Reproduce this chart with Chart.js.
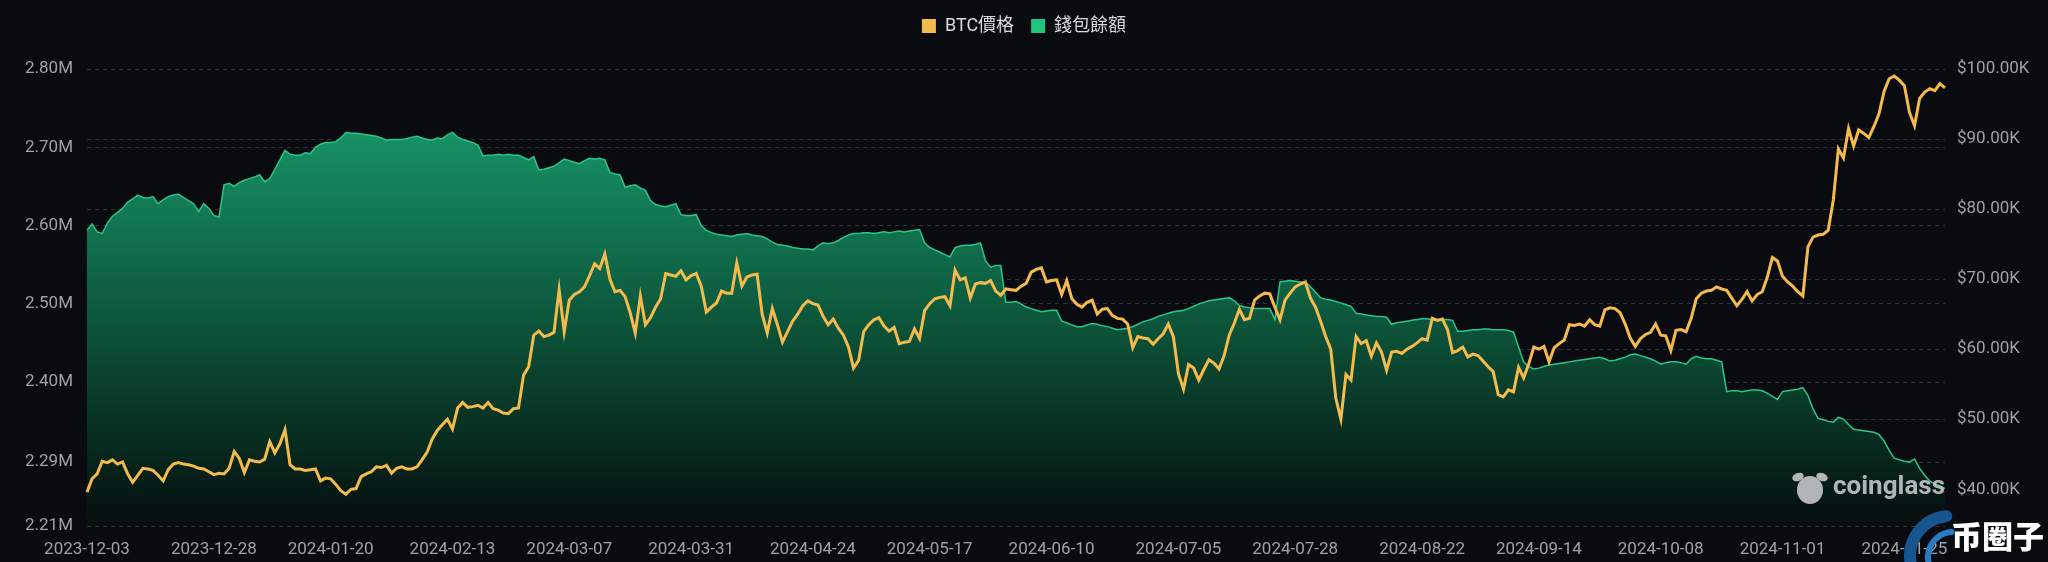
<!DOCTYPE html>
<html>
<head>
<meta charset="utf-8">
<script src="https://cdn.jsdelivr.net/npm/chart.js@4.4.1/dist/chart.umd.min.js"></script>
<style>
  html, body { margin: 0; padding: 0; background: #0a0b10; }
  #wrap { width: 2048px; height: 562px; position: relative; overflow: hidden; }
  #brand {
    position: absolute; left: 1951px; top: 518px;
    font-family: 'Noto Sans CJK SC', sans-serif; font-weight: 900; font-size: 31px; line-height: 34px;
    color: #ffffff; white-space: nowrap;
  }
</style>
</head>
<body>
<div id="wrap"><canvas id="chart"></canvas><div id="brand">币圈子</div></div>
<script>
// Daily points from 2023-12-03 to 2024-12-03
const firstDay = Date.UTC(2023, 11, 3);
const dayCount = 367;

const xTickLabels = [
  "2023-12-03", "2023-12-28", "2024-01-20", "2024-02-13", "2024-03-07", "2024-03-31",
  "2024-04-24", "2024-05-17", "2024-06-10", "2024-07-05", "2024-07-28", "2024-08-22",
  "2024-09-14", "2024-10-08", "2024-11-01", "2024-11-25"
];

// BTC price, thousands of USD
const btcPrice = [
  39.6, 41.5, 42.2, 44.0, 43.8, 44.2, 43.6, 43.9, 42.2, 41.0,
  42.0, 43.0, 42.9, 42.7, 42.0, 41.2, 42.8, 43.6, 43.8, 43.6,
  43.5, 43.3, 43.0, 42.9, 42.5, 42.1, 42.3, 42.2, 43.0, 45.4,
  44.4, 42.4, 44.2, 44.0, 43.9, 44.3, 46.8, 45.2, 46.5, 48.5,
  43.5, 42.9, 42.9, 42.7, 42.8, 42.9, 41.2, 41.6, 41.5, 40.7,
  39.8, 39.3, 40.0, 40.1, 41.8, 42.2, 42.5, 43.2, 43.1, 43.4,
  42.3, 43.0, 43.2, 42.9, 42.9, 43.2, 44.2, 45.3, 47.2, 48.4,
  49.2, 50.0, 48.6, 51.6, 52.4, 51.7, 51.8, 52.0, 51.6, 52.4,
  51.5, 51.3, 50.9, 50.8, 51.5, 51.6, 56.3, 57.5, 62.0, 62.6,
  61.8, 62.0, 62.4, 68.5, 62.5, 67.0, 67.8, 68.2, 68.9, 70.5,
  72.2, 71.5, 73.6, 70.0, 68.2, 68.4, 67.5, 65.2, 62.3, 67.6,
  63.5, 64.5, 66.0, 67.2, 70.8, 70.6, 70.4, 71.2, 69.9, 70.5,
  70.8, 69.0, 65.3, 66.0, 66.6, 68.3, 68.0, 68.0, 72.3, 69.0,
  70.3, 70.6, 70.7, 65.0, 62.3, 65.8, 63.5, 61.0, 62.5, 64.0,
  65.0, 66.2, 66.9, 66.5, 66.3, 64.7, 63.5, 64.3, 63.0, 62.0,
  60.3, 57.3, 58.4, 62.5, 63.5, 64.2, 64.5, 63.3, 62.6, 63.1,
  60.8, 61.0, 61.1, 62.9, 61.5, 65.5, 66.5, 67.2, 67.4, 67.5,
  66.2, 71.3, 69.9, 70.2, 67.3, 69.3, 69.5, 69.4, 69.8, 68.3,
  67.7, 68.6, 68.5, 68.4, 69.0, 69.4, 71.0, 71.4, 71.6, 69.6,
  69.8, 69.9, 67.8, 69.8, 67.2, 66.4, 66.0, 66.7, 67.0, 65.0,
  65.7, 65.8, 64.8, 64.4, 64.3, 63.6, 60.2, 61.8, 61.6, 61.5,
  60.7, 61.5, 62.2, 63.6, 61.8, 56.5, 54.3, 57.8, 57.3, 55.6,
  57.1, 58.5, 58.0, 57.2, 59.1, 62.0, 63.7, 65.7, 64.2, 64.4,
  67.0, 67.6, 68.0, 67.9, 66.0, 64.2, 67.0, 68.0, 68.9, 69.3,
  69.6, 67.3, 66.0, 64.0, 61.8, 60.0, 53.0, 50.0, 56.4, 55.6,
  61.8, 60.8, 61.2, 59.0, 60.9, 59.6, 57.0, 59.6, 59.7, 59.4,
  60.0, 60.4, 60.9, 61.5, 61.3, 64.4, 64.1, 64.3, 62.8, 59.5,
  59.8, 60.3, 58.9, 59.3, 59.1, 58.3, 57.5, 56.8, 53.5, 53.2,
  54.2, 53.9, 57.4, 55.9, 57.9, 60.3, 60.0, 60.4, 58.2, 60.2,
  60.8, 61.3, 63.5, 63.4, 63.6, 63.3, 64.2, 63.5, 63.3, 65.6,
  65.9, 65.8, 65.2, 63.6, 61.6, 60.4, 61.5, 62.1, 62.4, 63.6,
  62.0, 61.9, 59.8, 62.7, 62.8, 62.5, 64.4, 67.2, 68.0, 68.3,
  68.4, 68.9, 68.6, 68.4, 67.3, 66.2, 67.1, 68.2, 66.9, 67.8,
  68.2, 70.3, 73.1, 72.6, 70.4, 69.6, 69.0, 68.2, 67.6, 74.6,
  76.0, 76.3, 76.4, 77.0, 81.3, 88.6, 87.3, 91.5, 89.0, 91.3,
  90.8, 90.2, 91.8, 93.6, 96.8, 98.6, 99.0, 98.4, 97.6, 93.8,
  91.9, 95.8, 96.7, 97.2, 96.9, 97.9, 97.3
];

// wallet balance, millions
const walletBalance = [
  2.594, 2.602, 2.592, 2.590, 2.603, 2.612, 2.617, 2.622, 2.630, 2.634,
  2.639, 2.636, 2.635, 2.637, 2.628, 2.633, 2.637, 2.639, 2.640, 2.636,
  2.632, 2.628, 2.618, 2.628, 2.622, 2.613, 2.611, 2.652, 2.654, 2.650,
  2.655, 2.658, 2.660, 2.662, 2.665, 2.656, 2.660, 2.672, 2.684, 2.696,
  2.691, 2.690, 2.690, 2.693, 2.692, 2.700, 2.704, 2.706, 2.706, 2.707,
  2.712, 2.719, 2.718, 2.718, 2.717, 2.716, 2.715, 2.714, 2.712, 2.709,
  2.710, 2.710, 2.710, 2.711, 2.713, 2.714, 2.712, 2.710, 2.709, 2.712,
  2.711, 2.716, 2.719, 2.713, 2.710, 2.708, 2.706, 2.703, 2.689, 2.690,
  2.690, 2.691, 2.690, 2.691, 2.690, 2.690, 2.687, 2.684, 2.688, 2.671,
  2.672, 2.674, 2.676, 2.680, 2.685, 2.683, 2.681, 2.679, 2.683, 2.686,
  2.685, 2.686, 2.684, 2.668, 2.666, 2.665, 2.649, 2.651, 2.652, 2.648,
  2.645, 2.632, 2.627, 2.625, 2.624, 2.626, 2.628, 2.614, 2.613, 2.613,
  2.614, 2.600, 2.594, 2.591, 2.589, 2.588, 2.587, 2.586, 2.588, 2.589,
  2.590, 2.588, 2.587, 2.586, 2.583, 2.579, 2.576, 2.575, 2.574, 2.572,
  2.571, 2.570, 2.570, 2.569, 2.574, 2.578, 2.577, 2.578, 2.581, 2.585,
  2.588, 2.590, 2.590, 2.591, 2.591, 2.590, 2.591, 2.592, 2.591, 2.592,
  2.593, 2.592, 2.593, 2.594, 2.595, 2.578, 2.572, 2.569, 2.566, 2.563,
  2.560, 2.572, 2.574, 2.575, 2.575, 2.576, 2.578, 2.555, 2.547, 2.549,
  2.549, 2.502, 2.502, 2.503, 2.500, 2.496, 2.494, 2.492, 2.490, 2.491,
  2.492, 2.492, 2.478, 2.476, 2.473, 2.471, 2.471, 2.473, 2.475, 2.474,
  2.472, 2.471, 2.469, 2.467, 2.468, 2.469, 2.471, 2.474, 2.477, 2.479,
  2.481, 2.484, 2.486, 2.488, 2.490, 2.491, 2.492, 2.494, 2.497, 2.500,
  2.502, 2.504, 2.505, 2.506, 2.507, 2.508, 2.504, 2.498, 2.496, 2.495,
  2.494, 2.494, 2.494, 2.494, 2.480, 2.528, 2.529, 2.530, 2.529, 2.528,
  2.528, 2.522, 2.515, 2.508, 2.506, 2.505, 2.503, 2.501, 2.499, 2.497,
  2.488, 2.487, 2.486, 2.485, 2.484, 2.484, 2.483, 2.474, 2.476, 2.477,
  2.478, 2.479, 2.480, 2.481, 2.481, 2.480, 2.480, 2.480, 2.480, 2.479,
  2.465, 2.465, 2.466, 2.467, 2.467, 2.468, 2.468, 2.467, 2.467, 2.467,
  2.466, 2.464, 2.445, 2.426, 2.420, 2.417, 2.418, 2.420, 2.422, 2.423,
  2.424, 2.425, 2.426, 2.427, 2.428, 2.429, 2.430, 2.431, 2.432, 2.430,
  2.427, 2.428, 2.430, 2.432, 2.435, 2.436, 2.434, 2.432, 2.430, 2.427,
  2.423, 2.425, 2.426, 2.426, 2.425, 2.423, 2.430, 2.433, 2.431, 2.430,
  2.430, 2.428, 2.426, 2.388, 2.389, 2.389, 2.388, 2.389, 2.390, 2.390,
  2.389, 2.386, 2.382, 2.378, 2.388, 2.389, 2.390, 2.391, 2.393, 2.383,
  2.366, 2.354, 2.352, 2.350, 2.349, 2.355, 2.353, 2.346, 2.340, 2.339,
  2.338, 2.337, 2.336, 2.333, 2.325, 2.313, 2.303, 2.301, 2.299, 2.298,
  2.302, 2.290, 2.281, 2.274, 2.270, 2.268, 2.264
];

const leftTicks = [2.2164, 2.298, 2.40, 2.50, 2.60, 2.70, 2.80];
const leftTickLabels = ["2.21M", "2.29M", "2.40M", "2.50M", "2.60M", "2.70M", "2.80M"];
const rightTicks = [40, 50, 60, 70, 80, 90, 100];
const rightTickLabels = ["$40.00K", "$50.00K", "$60.00K", "$70.00K", "$80.00K", "$90.00K", "$100.00K"];

const seriesNames = ["BTC價格", "錢包餘額"];
const legendColors = ["#f4bb4c", "#1fc47f"];

// category labels, one per day
const dates = [];
for (let i = 0; i < dayCount; i++) {
  dates.push(new Date(firstDay + i * 86400000).toISOString().slice(0, 10));
}

const FONT = "Roboto, 'Noto Sans CJK TC', sans-serif";
const axisText = "#9ea2a9";
const gridColor = "#30333a";

// watermarks drawn over the chart
const watermark = {
  id: "watermark",
  afterDraw(chart) {
    const c = chart.ctx;
    c.save();
    // coinglass head + word
    c.fillStyle = "rgba(196,198,201,0.9)";
    c.beginPath();
    c.ellipse(1810, 490, 13, 14, 0, 0, Math.PI * 2);
    c.fill();
    c.beginPath();
    c.ellipse(1798, 477, 6, 4, -0.4, 0, Math.PI * 2);
    c.ellipse(1822, 477, 6, 4, 0.4, 0, Math.PI * 2);
    c.fill();
    c.font = "bold 26px Roboto, sans-serif";
    c.textBaseline = "middle";
    c.fillText("coinglass", 1833, 487);

    // blue ring logo
    c.lineCap = "round";
    c.strokeStyle = "#17558f";
    c.lineWidth = 12;
    c.beginPath();
    c.arc(1950, 556, 40, Math.PI * 0.72, Math.PI * 1.47);
    c.stroke();
    c.strokeStyle = "#2a7cc2";
    c.lineWidth = 6;
    c.beginPath();
    c.arc(1953, 557, 25, Math.PI * 0.78, Math.PI * 1.48);
    c.stroke();
    c.restore();
  }
};

new Chart(document.getElementById("chart"), {
  type: "line",
  data: {
    labels: dates,
    datasets: [
      {
        label: seriesNames[0],
        data: btcPrice,
        xAxisID: "x",
        yAxisID: "yR",
        borderColor: "#f4bb4c",
        borderWidth: 3,
        pointRadius: 0,
        fill: false,
        order: 0
      },
      {
        label: seriesNames[1],
        data: walletBalance,
        xAxisID: "x",
        yAxisID: "yL",
        borderColor: "#2bc687",
        borderWidth: 1.5,
        pointRadius: 0,
        fill: "start",
        backgroundColor: function(ctx) {
          const area = ctx.chart.chartArea;
          if (!area) return "rgba(20,140,95,0.8)";
          const g = ctx.chart.ctx.createLinearGradient(0, area.top, 0, area.bottom);
          g.addColorStop(0, "rgb(26,165,112)");
          g.addColorStop(0.16, "rgb(22,142,98)");
          g.addColorStop(0.49, "rgb(14,95,66)");
          g.addColorStop(0.71, "rgb(9,60,42)");
          g.addColorStop(0.93, "rgb(6,25,20)");
          g.addColorStop(1, "rgb(8,14,14)");
          return g;
        },
        order: 1
      }
    ]
  },
  options: {
    responsive: true,
    maintainAspectRatio: false,
    animation: false,
    plugins: {
      tooltip: { enabled: false },
      legend: {
        position: "top",
        labels: {
          color: "#d8dade",
          font: { size: 18, family: FONT },
          boxWidth: 14,
          boxHeight: 14,
          padding: 17,
          generateLabels: chart => chart.data.datasets.map((ds, i) => ({
            text: ds.label,
            fillStyle: legendColors[i],
            strokeStyle: legendColors[i],
            lineWidth: 0,
            hidden: false,
            datasetIndex: i,
            fontColor: "#d8dade"
          }))
        }
      }
    },
    scales: {
      x: {
        type: "category",
        position: "bottom",
        offset: false,
        grid: { display: false },
        border: { display: false },
        ticks: {
          autoSkip: false,
          maxRotation: 0,
          color: axisText,
          font: { size: 17, family: FONT },
          padding: 6
        },
        afterBuildTicks(scale) {
          scale.ticks = scale.ticks.filter(t => xTickLabels.includes(dates[t.value]));
        },
        afterFit(scale) { scale.height = 36; }
      },
      pad: {
        type: "linear",
        axis: "x",
        position: "top",
        grid: { display: false },
        border: { display: false },
        ticks: { display: false },
        afterFit(scale) { scale.height = 24; }
      },
      yL: {
        type: "linear",
        position: "left",
        min: 2.2164,
        max: 2.80,
        grid: { color: gridColor, drawTicks: false },
        border: { display: false, dash: [4, 4] },
        ticks: {
          color: axisText,
          font: { size: 17, family: FONT },
          padding: 14,
          callback: (v, i) => leftTickLabels[i]
        },
        afterBuildTicks(scale) {
          scale.ticks = leftTicks.map(v => ({ value: v }));
        },
        afterFit(scale) { scale.width = 87; }
      },
      yR: {
        type: "linear",
        position: "right",
        min: 34.76,
        max: 100,
        grid: { color: gridColor, drawTicks: false },
        border: { display: false, dash: [4, 4] },
        ticks: {
          color: axisText,
          font: { size: 17, family: FONT },
          padding: 12,
          callback: (v, i) => rightTickLabels[i]
        },
        afterBuildTicks(scale) {
          scale.ticks = rightTicks.map(v => ({ value: v }));
        },
        afterFit(scale) { scale.width = 103; }
      }
    }
  },
  plugins: [watermark]
});
</script>
</body>
</html>
